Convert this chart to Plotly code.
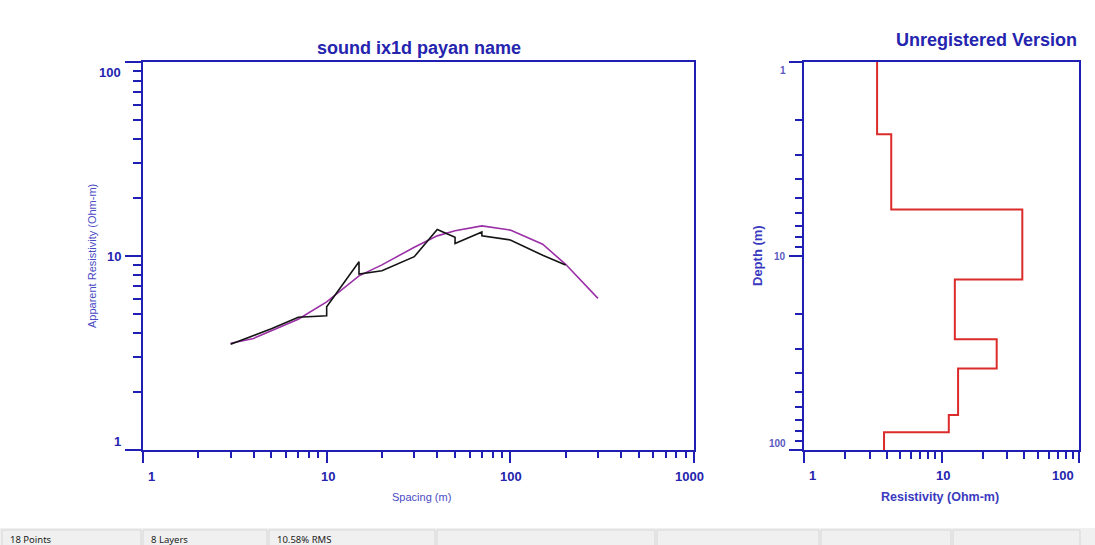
import numpy as np
import plotly.graph_objects as go

# Field sounding: electrode spacing AB/2 (m) and apparent resistivity (Ohm-m)
spacing = [3, 4, 5, 7, 10, 10, 15, 15, 20, 30, 40, 50, 50, 70, 70, 100, 150, 200]
app_res = [3.51, 3.90, 4.22, 4.83, 4.92, 5.48, 9.35, 8.08, 8.40, 9.92,
           13.7, 12.5, 11.6, 13.3, 12.7, 12.1, 10.1, 8.99]

# Forward response of the fitted layered model
model_spacing = [3, 4, 5, 7, 10, 15, 20, 30, 40, 50, 70, 100, 150, 200, 300]
model_res = [3.55, 3.76, 4.12, 4.72, 5.8, 7.9, 9.0, 11.1, 12.7, 13.5, 14.3, 13.6, 11.5, 9.06, 6.05]

# Layered model: resistivity (Ohm-m) and depth to the base of each layer (m)
layer_res = [3.40, 4.31, 38.7, 12.5, 25.2, 13.2, 11.3, 3.82]
layer_bottom = [2.36, 5.75, 13.2, 26.9, 38.0, 66.1, 81.0, 100.0]

# Axis tick labels
sp_ticks = [1, 10, 100, 1000]
rho_ticks = [1, 10, 100]
rho2_ticks = [1, 10, 100]
depth_ticks = [1, 10, 100]

W, H = 1095, 545
AX = "#1f1fb4"
TXT = "#2424ae"
FONT = "Liberation Sans, Arial, sans-serif"

# pixel frame of the two panels
L_X0, L_X1 = 143, 694
R_X0, R_X1 = 804, 1079
Y_TOP, Y_BOT = 62, 450


def px(x):
    return x / W


def py(y):
    return 1 - y / H


def minor_vals(decades):
    return [m * 10 ** d for d in decades for m in range(2, 10)]


# depth/resistivity step profile of the layered model
step_x, step_y = [], []
top = 1.0
for rho, bot in zip(layer_res, layer_bottom):
    step_x += [rho, rho]
    step_y += [top, bot]
    top = bot

fig = go.Figure()
fig.add_trace(go.Scatter(x=model_spacing, y=model_res, mode="lines",
                         line=dict(color="#9a2fa6", width=1.6),
                         xaxis="x", yaxis="y", hoverinfo="skip"))
fig.add_trace(go.Scatter(x=spacing, y=app_res, mode="lines",
                         line=dict(color="#141414", width=1.6),
                         xaxis="x", yaxis="y", hoverinfo="skip"))
fig.add_trace(go.Scatter(x=step_x, y=step_y, mode="lines",
                         line=dict(color="#dc2b2b", width=2),
                         xaxis="x2", yaxis="y2", hoverinfo="skip"))

base_axis = dict(type="log", showline=True, linecolor=AX, linewidth=2,
                 mirror=True, ticks="outside", tickwidth=2, tickcolor=AX,
                 showticklabels=False, showgrid=False, zeroline=False,
                 tickmode="array")
inner_axis = dict(type="log", showline=False, ticks="inside", tickwidth=2,
                  tickcolor=AX, showticklabels=False, showgrid=False,
                  zeroline=False, tickmode="array")
ydom = [py(Y_BOT), py(Y_TOP)]

fig.update_layout(
    width=W, height=H, margin=dict(l=0, r=0, t=0, b=0),
    paper_bgcolor="white", plot_bgcolor="white", showlegend=False,
    xaxis=dict(base_axis, domain=[px(L_X0), px(L_X1)], anchor="y",
               range=[0, 3], tickvals=sp_ticks, ticklen=11,
               minor=dict(tickvals=minor_vals([0, 1, 2]), ticks="outside",
                          ticklen=6, tickwidth=2, tickcolor=AX, showgrid=False)),
    yaxis=dict(base_axis, domain=ydom, anchor="x", range=[0, 2],
               tickvals=rho_ticks, ticklen=16,
               minor=dict(tickvals=minor_vals([0, 1]), ticks="outside",
                          ticklen=8, tickwidth=2, tickcolor=AX, showgrid=False)),
    xaxis3=dict(inner_axis, overlaying="x", side="top", anchor="y",
                range=[0, 3], tickvals=[10, 100], ticklen=12),
    yaxis3=dict(inner_axis, overlaying="y", side="right", anchor="x",
                range=[0, 2], tickvals=[10], ticklen=16),
    xaxis2=dict(base_axis, domain=[px(R_X0), px(R_X1)], anchor="y2",
                range=[0, 2], tickvals=rho2_ticks, ticklen=11,
                minor=dict(tickvals=minor_vals([0, 1]), ticks="outside",
                           ticklen=7, tickwidth=2, tickcolor=AX, showgrid=False)),
    yaxis2=dict(base_axis, domain=ydom, anchor="x2", range=[2, 0],
                tickvals=depth_ticks, ticklen=13,
                minor=dict(tickvals=minor_vals([0, 1]), ticks="outside",
                           ticklen=7, tickwidth=2, tickcolor=AX, showgrid=False)),
    xaxis4=dict(inner_axis, overlaying="x2", side="top", anchor="y2",
                range=[0, 2], tickvals=[10], ticklen=10),
    yaxis4=dict(inner_axis, overlaying="y2", side="right", anchor="x2",
                range=[2, 0], tickvals=[10], ticklen=14),
)

ann = []


def label(text, **kw):
    d = dict(text=text, showarrow=False,
             font=dict(family=FONT, size=13, color=TXT, weight="bold"))
    d.update(kw)
    ann.append(d)


# spacing axis labels (end labels pulled inside the frame)
for i, v in enumerate(sp_ticks):
    shift = 8 if i == 0 else (-5 if i == len(sp_ticks) - 1 else 1)
    label(str(v), xref="x", x=np.log10(v), yref="paper", y=py(Y_BOT),
          yshift=-26, xshift=shift, yanchor="middle", xanchor="center")
# apparent resistivity axis labels
for i, v in enumerate(rho_ticks):
    shift = 9 if i == 0 else (-10 if i == len(rho_ticks) - 1 else 0)
    label(str(v), xref="paper", x=px(L_X0), xshift=-20, xanchor="right",
          yref="y", y=np.log10(v), yshift=shift, yanchor="middle")
# model resistivity axis labels
for i, v in enumerate(rho2_ticks):
    shift = 8 if i == 0 else (-16 if i == len(rho2_ticks) - 1 else 1)
    label(str(v), xref="x2", x=np.log10(v), yref="paper", y=py(Y_BOT),
          yshift=-25, xshift=shift, yanchor="middle", xanchor="center")
# depth axis labels
for i, v in enumerate(depth_ticks):
    shift = -8 if i == 0 else (7 if i == len(depth_ticks) - 1 else 0)
    label(str(v), xref="paper", x=px(R_X0), xshift=-16, xanchor="right",
          yref="y2", y=np.log10(v), yshift=shift, yanchor="middle",
          font=dict(family=FONT, size=10, color="#5a5ac0", weight="bold"))

# titles
label("sound ix1d payan name", xref="paper", yref="paper",
      x=px((L_X0 + L_X1) / 2), y=py(48), xanchor="center", yanchor="middle",
      font=dict(family=FONT, size=18, color=TXT, weight="bold"))
label("Unregistered Version", xref="paper", yref="paper",
      x=px(986), y=py(40), xanchor="center", yanchor="middle",
      font=dict(family=FONT, size=18, color=TXT, weight="bold"))
label("Apparent Resistivity (Ohm-m)", xref="paper", yref="paper",
      x=px(92), y=py(256), textangle=-90, xanchor="center", yanchor="middle",
      font=dict(family=FONT, size=11, color="#4a4ac4"))
label("Spacing (m)", xref="paper", yref="paper",
      x=px(421), y=py(497), xanchor="center", yanchor="middle",
      font=dict(family=FONT, size=11, color="#4a4ac4"))
label("Depth (m)", xref="paper", yref="paper",
      x=px(757), y=py(256), textangle=-90, xanchor="center", yanchor="middle",
      font=dict(family=FONT, size=13, color="#3a3abf", weight="bold"))
label("Resistivity (Ohm-m)", xref="paper", yref="paper",
      x=px(940), y=py(497), xanchor="center", yanchor="middle",
      font=dict(family=FONT, size=12.5, color="#3a3abf", weight="bold"))

# status bar along the bottom of the window
cells = [(2, 141), (143, 267), (269, 435), (437, 655), (657, 819), (821, 951), (953, 1080)]
status_text = ["18 Points", "8 Layers", "10.58% RMS", "", "", "", ""]
shapes = [dict(type="rect", xref="paper", yref="paper", x0=0, x1=1,
               y0=0, y1=py(528), fillcolor="#f0f0f0", line=dict(width=0),
               layer="below")]
for (a, b), t in zip(cells, status_text):
    shapes.append(dict(type="rect", xref="paper", yref="paper",
                       x0=px(a), x1=px(b), y0=py(547), y1=py(530),
                       fillcolor="#f0f0f0", line=dict(color="#d6d6d6", width=1)))
    if t:
        ann.append(dict(text=t, showarrow=False, xref="paper", yref="paper",
                        x=px(a + 6), y=py(531), xanchor="left", yanchor="top",
                        font=dict(family="Noto Sans, DejaVu Sans, sans-serif",
                                  size=9.5, color="#222222")))

fig.update_layout(annotations=ann, shapes=shapes)
fig.write_html("out.html")
